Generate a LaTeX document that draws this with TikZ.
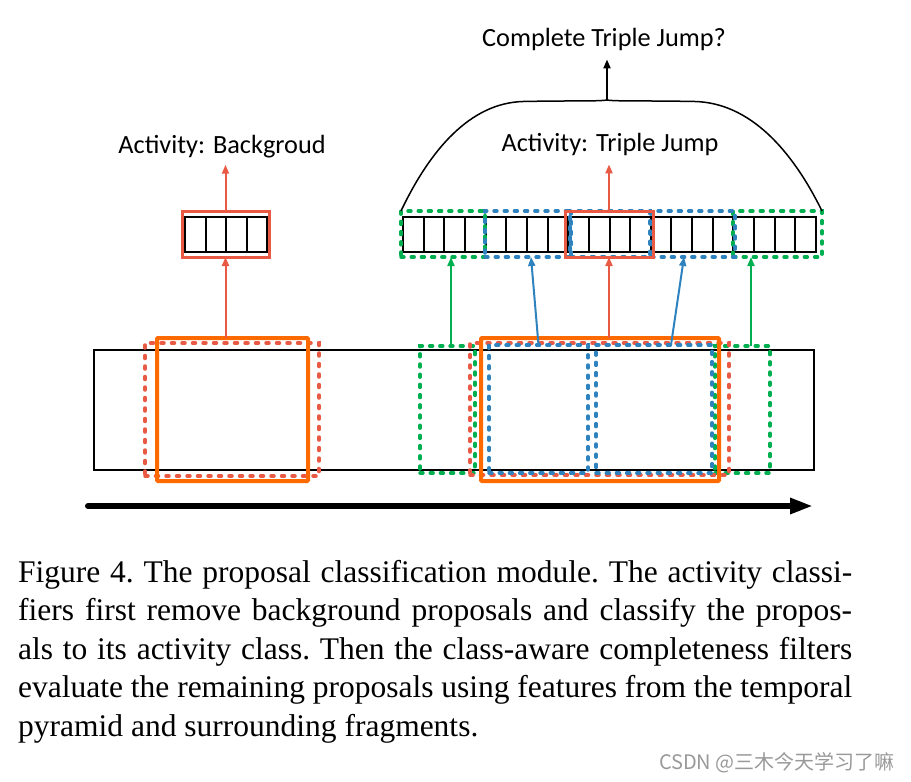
\documentclass[tikz,border=0pt]{standalone}
\usepackage{fontspec}
\usetikzlibrary{arrows.meta}
\newfontfamily\labfont{Carlito}
\newfontfamily\capfont{Liberation Serif}
\newfontfamily\cjkfont{Noto Sans CJK SC}
\definecolor{cOrange}{RGB}{255,106,0}
\definecolor{cRed}{RGB}{233,90,68}
\definecolor{cGreen}{RGB}{0,176,80}
\definecolor{cBlue}{RGB}{46,130,190}
\tikzset{
  bx/.style={inner sep=0pt, outer sep=0pt, anchor=north west},
  orangebox/.style={bx, draw=cOrange, line width=4pt, rounded corners=1pt},
  reddash/.style={bx, draw=cRed, line width=3.5pt, dash pattern=on 3pt off 7.5pt, line cap=round},
  greendash/.style={bx, draw=cGreen, line width=3.4pt, dash pattern=on 3pt off 7.2pt, line cap=round},
  bluedash/.style={bx, draw=cBlue, line width=3.4pt, dash pattern=on 3pt off 7.2pt, line cap=round},
  redsolid/.style={bx, draw=cRed, line width=3pt},
  cellline/.style={draw=black, line width=2pt},
  conn/.style={line width=2pt, -{Triangle[length=9pt,width=7pt]}},
  lab/.style={font=\labfont\fontsize{26.3pt}{30pt}\selectfont, inner sep=0pt},
}
\begin{document}
\begin{tikzpicture}[x=1pt,y=-1pt]
\useasboundingbox (0,0) rectangle (911,782);
% timeline
\node[bx, draw=black, line width=1.5pt, minimum width=720pt, minimum height=120pt] (tl) at (94,350) {};
% ---- left proposal
\node[reddash, minimum width=174pt, minimum height=133pt] (lr) at (145,343) {};
\node[orangebox, minimum width=151pt, minimum height=143pt] (lo) at (157,338) {};
% left feature
\draw[cellline] (185,217) rectangle (267,252);
\foreach \i in {1,2,3} \draw[cellline] (185+\i*20.5,217) -- (185+\i*20.5,252);
\node[redsolid, minimum width=87pt, minimum height=46pt] (lf) at (182,211) {};
\node[lab, anchor=base] (lbg) at (222,153) {Activity: Backgroud};
\draw[conn, cRed] (lo.north -| lf.south) -- (lf.south);
\draw[conn, cRed] (lf.north) -- ([yshift=-7pt]lbg.south -| lf.north);
% ---- right feature bar
\draw[cellline] (403,217) rectangle (816,252);
\foreach \i in {1,...,19} \draw[cellline] (403+\i*20.65,217) -- (403+\i*20.65,252);
\node[greendash, minimum width=84pt, minimum height=46pt] (g1) at (401,211) {};
\node[greendash, minimum width=89pt, minimum height=46pt] (g2) at (733,211) {};
\node[bluedash, minimum width=85pt, minimum height=46pt] (b1) at (485,211) {};
\node[bluedash, minimum width=79pt, minimum height=46pt] (b2) at (571,211) {};
\node[bluedash, minimum width=84pt, minimum height=46pt] (b3) at (651,211) {};
\node[redsolid, minimum width=88pt, minimum height=46pt] (rf) at (565,211) {};
% ---- right proposal
\node[greendash, minimum width=55pt, minimum height=127pt] (gL) at (420,346) {};
\node[greendash, minimum width=55pt, minimum height=127pt] (gR) at (715,346) {};
\node[reddash, minimum width=259pt, minimum height=132pt] (rd) at (470,343) {};
\node[bluedash, minimum width=99pt, minimum height=128pt] (bL) at (489,345) {};
\node[bluedash, minimum width=116pt, minimum height=128pt] (bR) at (596,345) {};
\node[orangebox, minimum width=238pt, minimum height=143pt] (oR) at (481,338) {};
% connectors
\coordinate (bLt) at (bL.north);
\coordinate (b1b) at ([xshift=3.5pt]b1.south);
\coordinate (bRt) at ([xshift=17pt]bR.north);
\coordinate (b3b) at ([xshift=-9pt]b3.south);
\draw[conn, cGreen] ([xshift=3.5pt]gL.north) -- ([xshift=3.5pt]gL.north |- g1.south);
\draw[conn, cBlue] (bLt) -- (b1b);
\draw[conn, cRed] (oR.north -| rf.south) -- (rf.south);
\draw[conn, cBlue] (bRt) -- (b3b);
\draw[conn, cGreen] ([xshift=8.5pt]gR.north) -- ([xshift=8.5pt]gR.north |- g2.south);
% top labels
\node[lab, anchor=base] (ltj) at (610,151) {Activity: Triple Jump};
\draw[conn, cRed] (rf.north) -- ([yshift=-9pt]ltj.south -| rf.north);
\coordinate (peak) at (607,100);
\draw[line width=1.5pt] (g1.north west) .. controls (430,150) and (470,103) .. (523,101.5)
  .. controls (570,100.5) and (598,101.5) .. (peak)
  .. controls (616,101.5) and (646,100.5) .. (695,101.5)
  .. controls (750,103) and (792,150) .. (g2.north east);
\node[lab, anchor=base] (ctj) at (604,46) {Complete Triple Jump?};
\draw[conn, black] (peak) -- ([yshift=-9pt]ctj.south -| peak);
% time arrow
\coordinate (ta) at (88,506);
\coordinate (tb) at (813,506);
\draw[line width=6pt, line cap=round, -{Triangle[length=23pt,width=15pt]}] (ta) -- (tb);
% caption
\node[anchor=base west, inner sep=0pt] (cap) at (18,582) {\parbox[t]{834pt}{\capfont\fontsize{31.5pt}{38.5pt}\selectfont\hyphenpenalty=10000\frenchspacing
Figure 4. The proposal classification module. The activity classi-\linebreak
fiers first remove background proposals and classify the propos-\linebreak
als to its activity class. Then the class-aware completeness filters\linebreak
evaluate the remaining proposals using features from the temporal\linebreak
pyramid and surrounding fragments.}};
% watermark
\node[anchor=base east, inner sep=0pt, text=black!40] (wm) at (895,769) {\cjkfont\fontsize{20pt}{24pt}\selectfont CSDN @三木今天学习了嘛};
\end{tikzpicture}
\end{document}
